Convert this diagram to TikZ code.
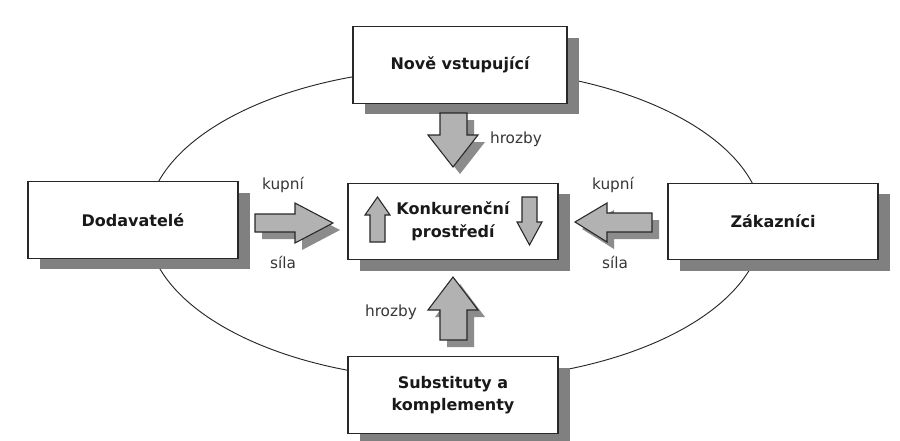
\documentclass[tikz,border=0pt]{standalone}
\usepackage{fontspec}
\setmainfont{DejaVu Sans}
\usetikzlibrary{shadows}
\definecolor{boxshadow}{RGB}{128,128,128}
\definecolor{arrowfill}{RGB}{178,178,178}
\definecolor{arrowshadow}{RGB}{140,140,140}
\definecolor{linecol}{RGB}{40,40,40}
\definecolor{lblcol}{RGB}{55,55,55}
\begin{document}
\begin{tikzpicture}[x=0.75pt,y=-0.75pt,
  box/.style={draw=linecol, line width=0.9pt, fill=white, minimum width=157.5pt,
    minimum height=57.5pt, align=center, inner sep=0pt, text=black!90,
    font=\bfseries\fontsize{12}{17}\selectfont,
    drop shadow={shadow xshift=9pt, shadow yshift=-8.25pt, fill=boxshadow, opacity=1}},
  lbl/.style={font=\fontsize{11.5}{13}\selectfont, text=lblcol, inner sep=0pt},
  blockarrow/.style={draw=linecol, line width=0.8pt, fill=arrowfill, line join=miter},
  arrowshade/.style={fill=arrowshadow}]
\fill[white] (0,0) rectangle (900,440);
\useasboundingbox (0,0) rectangle (900,440);
% ellipse
\draw[linecol, line width=0.7pt] (455,224) ellipse [x radius=231pt, y radius=117pt];
% boxes
\node[box, minimum width=160.5pt] (nove) at (460,65) {Nově vstupující};
\node[box] (dod) at (133,220) {Dodavatelé};
\node[box] (zak) at (773,221.5) {Zákazníci};
\node[box] (konk) at (453,221.5) {Konkurenční\\prostředí};
\node[box] (subst) at (453,395) {Substituty a\\komplementy};
% top arrow (down)
\fill[arrowshade, shift={(7,7)}] (440,113) -- (467,113) -- (467,135) -- (478,135) -- (453,167) -- (428,135) -- (440,135) -- cycle;
\filldraw[blockarrow] (440,113) -- (467,113) -- (467,135) -- (478,135) -- (453,167) -- (428,135) -- (440,135) -- cycle;
% bottom arrow (up)
\fill[arrowshade, shift={(7,7)}] (440,340) -- (467,340) -- (467,310) -- (478,310) -- (453,277) -- (428,310) -- (440,310) -- cycle;
\filldraw[blockarrow] (440,340) -- (467,340) -- (467,310) -- (478,310) -- (453,277) -- (428,310) -- (440,310) -- cycle;
% left arrow (right pointing)
\fill[arrowshade, shift={(7,7)}] (255,214) -- (295,214) -- (295,203) -- (333,223) -- (295,243) -- (295,232) -- (255,232) -- cycle;
\filldraw[blockarrow] (255,214) -- (295,214) -- (295,203) -- (333,223) -- (295,243) -- (295,232) -- (255,232) -- cycle;
% right arrow (left pointing)
\fill[arrowshade, shift={(7,7)}] (652,213) -- (607,213) -- (607,203) -- (575,222) -- (607,242) -- (607,232) -- (652,232) -- cycle;
\filldraw[blockarrow] (652,213) -- (607,213) -- (607,203) -- (575,222) -- (607,242) -- (607,232) -- (652,232) -- cycle;
% small arrows inside centre box
\filldraw[blockarrow] (370,242) -- (385,242) -- (385,215) -- (390,215) -- (377.5,197) -- (365,215) -- (370,215) -- cycle;
\filldraw[blockarrow] (522,197) -- (537,197) -- (537,222) -- (542,222) -- (529.5,245) -- (517,222) -- (522,222) -- cycle;
% labels
\node[lbl] (hrozbyT) at (516,139) {hrozby};
\node[lbl] (hrozbyB) at (391,312) {hrozby};
\node[lbl] (kupniL) at (283,185) {kupní};
\node[lbl] (silaL) at (283,262) {síla};
\node[lbl] (kupniR) at (613,185) {kupní};
\node[lbl] (silaR) at (615,262) {síla};
\end{tikzpicture}
\end{document}
